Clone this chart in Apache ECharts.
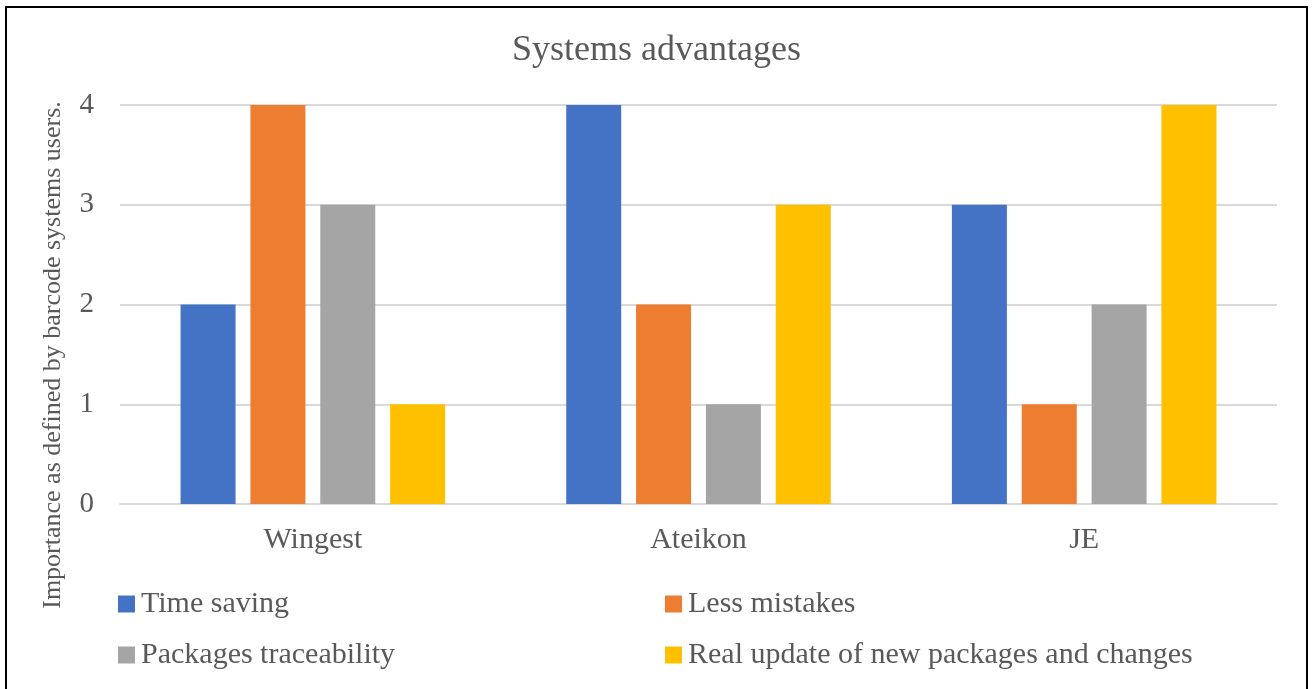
<!DOCTYPE html>
<html>
<head>
<meta charset="utf-8">
<script src="https://cdn.jsdelivr.net/npm/echarts@6/dist/echarts.min.js"></script>
<style>
  html, body { margin:0; padding:0; background:#fff; }
  #chart { width:1313px; height:689px; }
</style>
</head>
<body>
<div id="chart"></div>
<script>
const categories = ["Wingest", "Ateikon", "JE"];
const seriesNames = ["Time saving", "Less mistakes", "Packages traceability", "Real update of new packages and changes"];
const timeSaving = [2, 4, 3];
const lessMistakes = [4, 2, 1];
const traceability = [3, 1, 2];
const realUpdate = [1, 3, 4];
const colors = ["#4472c4", "#ed7d31", "#a5a5a5", "#ffc000"];
const yTitle = "Importance as defined by barcode systems users.";

const FONT = "'Liberation Serif', 'DejaVu Serif', serif";
const TXT = "#595959";

const chart = echarts.init(document.getElementById("chart"));

// legend: one component per item so they sit in a 2x2 grid
const legendPos = [[118, 589], [665, 589], [118, 640], [665, 640]];
const legends = seriesNames.map((n, i) => ({
  data: [n],
  left: legendPos[i][0], top: legendPos[i][1],
  padding: 0,
  itemWidth: 17, itemHeight: 17, itemGap: 6,
  icon: "rect",
  textStyle: { fontFamily: FONT, fontSize: 30, color: TXT, padding: [0, 0, 0, 1] }
}));

const values = [timeSaving, lessMistakes, traceability, realUpdate];

chart.setOption({
  animation: false,
  color: colors,
  title: {
    text: "Systems advantages",
    left: "center", top: 28,
    textStyle: { fontFamily: FONT, fontSize: 36, fontWeight: "normal", color: TXT }
  },
  legend: legends,
  grid: { left: 120, right: 36, top: 105, bottom: 185 },
  xAxis: {
    type: "category",
    data: categories,
    axisLine: { lineStyle: { color: "#d9d9d9", width: 2 } },
    axisTick: { show: false },
    axisLabel: { fontFamily: FONT, fontSize: 30, color: TXT, margin: 21 }
  },
  yAxis: {
    type: "value",
    min: 0, max: 4, interval: 1,
    axisLabel: { fontFamily: FONT, fontSize: 29, color: TXT, margin: 26 },
    splitLine: { lineStyle: { color: "#d9d9d9", width: 2 } }
  },
  series: seriesNames.map((n, i) => ({
    name: n,
    type: "bar",
    data: values[i],
    barWidth: 55,
    barGap: "27%"
  })),
  graphic: [{
    type: "rect",
    shape: { x: 6, y: 7, width: 1301, height: 690 },
    style: { fill: "none", stroke: "#000", lineWidth: 2 },
    silent: true
  }, {
    type: "text",
    x: 53, y: 355,
    rotation: Math.PI / 2,
    style: {
      text: yTitle,
      fontFamily: FONT, fontSize: 26, fill: TXT,
      align: "center", verticalAlign: "middle"
    },
    silent: true
  }]
});
</script>
</body>
</html>
